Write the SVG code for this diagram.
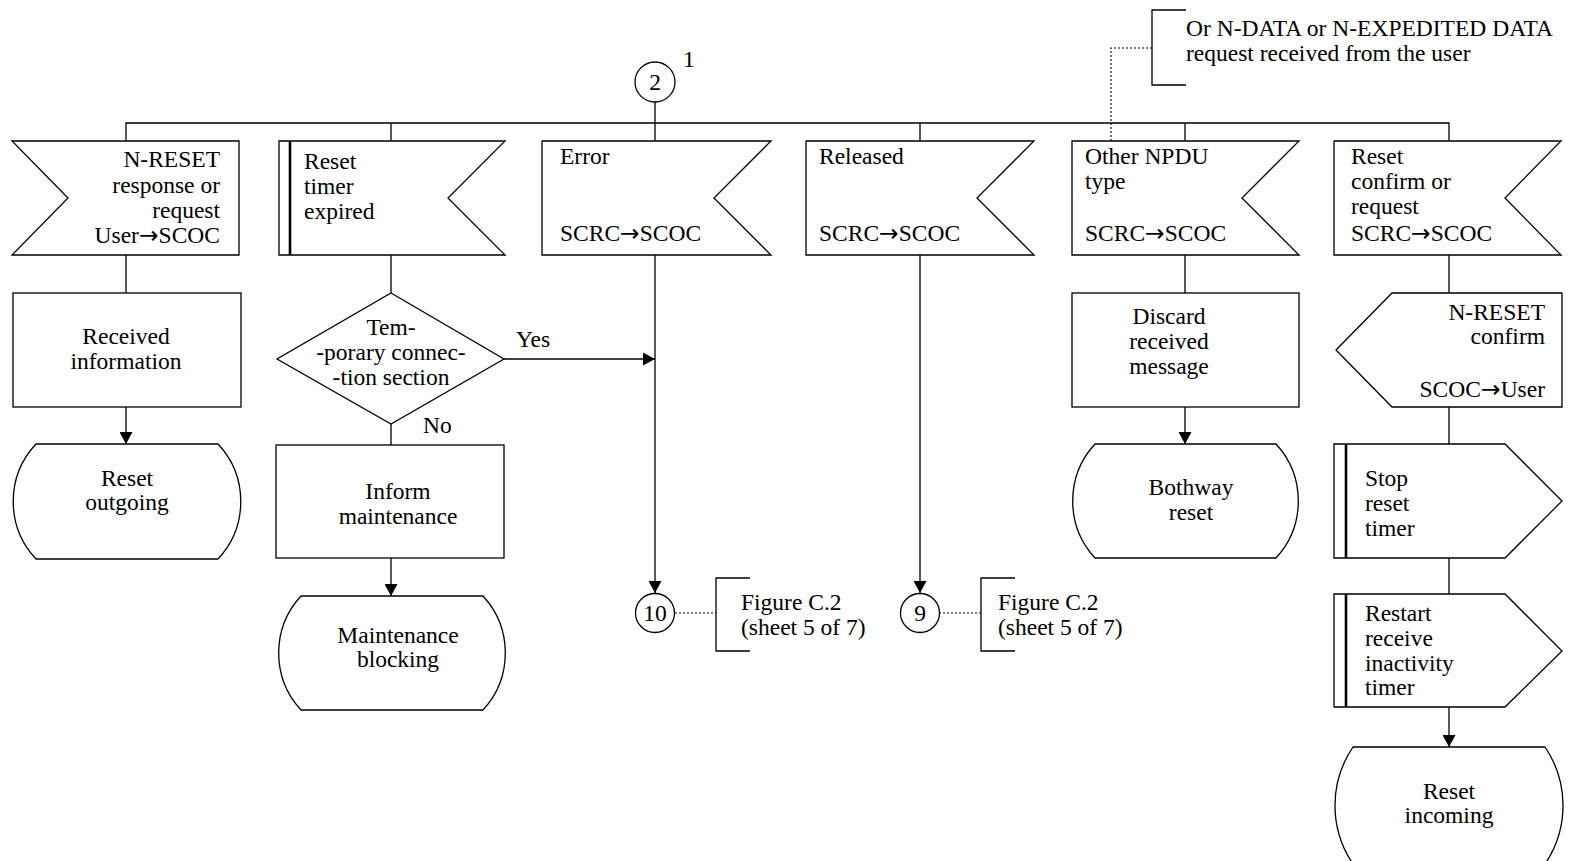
<svg xmlns="http://www.w3.org/2000/svg" width="1576" height="861" viewBox="0 0 1576 861">
<style>
.s{fill:#fff;stroke:#000;stroke-width:1.3}
.bar{stroke:#000;stroke-width:2.6;fill:none}
.ln{stroke:#000;stroke-width:1.3;fill:none}
.dot{stroke:#000;stroke-width:1.1;fill:none;stroke-dasharray:2 2}
text{font-family:"Liberation Serif","Times New Roman",serif;font-size:23.5px;fill:#000}
.c{text-anchor:middle}
.r{text-anchor:end}
.a{font-family:"DejaVu Sans",sans-serif}
</style>
<defs>
<marker id="ar" markerUnits="userSpaceOnUse" markerWidth="13" markerHeight="13" refX="12" refY="6.5" orient="auto">
<path d="M0,0 L12,6.5 L0,13 Z" fill="#000"/>
</marker>
</defs>

<g id="connectors">
<path class="ln" d="M126,141 V123 H1449 V141"/>
<path class="ln" d="M391,123 V141 M655,102 V141 M920,123 V141 M1185,123 V141"/>
<path class="ln" d="M126,255 V293"/>
<path class="ln" d="M126,407 V444" marker-end="url(#ar)"/>
<path class="ln" d="M391,255 V293 M391,424 V445"/>
<path class="ln" d="M391,558 V596" marker-end="url(#ar)"/>
<path class="ln" d="M504,359 H655" marker-end="url(#ar)"/>
<path class="ln" d="M655,255 V593" marker-end="url(#ar)"/>
<path class="ln" d="M920,255 V593" marker-end="url(#ar)"/>
<path class="ln" d="M1185,255 V293"/>
<path class="ln" d="M1185,407 V444" marker-end="url(#ar)"/>
<path class="ln" d="M1449,255 V293 M1449,407 V444 M1449,558 V594"/>
<path class="ln" d="M1449,707 V747" marker-end="url(#ar)"/>
<path class="dot" d="M675,613 H716 M939,613 H981 M1152,48 H1111 V141"/>
<text x="516" y="347">Yes</text>
<text x="423" y="433">No</text>
</g>

<g id="start2">
<circle class="s" cx="655" cy="82" r="20"/>
<text class="c" x="655" y="90">2</text>
<text x="683" y="67">1</text>
</g>

<g id="comment-top">
<path class="ln" d="M1186,10 H1152 V85 H1186"/>
<text x="1186" y="36">Or N-DATA or N-EXPEDITED DATA</text>
<text x="1186" y="61">request received from the user</text>
</g>

<g id="nreset-input">
<polygon class="s" points="12,141 239,141 239,255 12,255 68,198"/>
<text class="r" x="220" y="167">N-RESET</text>
<text class="r" x="220" y="193">response or</text>
<text class="r" x="220" y="218">request</text>
<text class="r" x="220" y="243">User<tspan class="a">→</tspan>SCOC</text>
</g>

<g id="reset-timer-expired">
<polygon class="s" points="279,141 505,141 448,198 505,255 279,255"/>
<line class="bar" x1="290" y1="141" x2="290" y2="255"/>
<text x="304" y="169">Reset</text>
<text x="304" y="194">timer</text>
<text x="304" y="219">expired</text>
</g>

<g id="error-input">
<polygon class="s" points="542,141 771,141 714,198 771,255 542,255"/>
<text x="560" y="164">Error</text>
<text x="560" y="241">SCRC<tspan class="a">→</tspan>SCOC</text>
</g>

<g id="released-input">
<polygon class="s" points="806,141 1034,141 977,198 1034,255 806,255"/>
<text x="819" y="164">Released</text>
<text x="819" y="241">SCRC<tspan class="a">→</tspan>SCOC</text>
</g>

<g id="other-npdu-input">
<polygon class="s" points="1072,141 1299,141 1242,198 1299,255 1072,255"/>
<text x="1085" y="164">Other NPDU</text>
<text x="1085" y="189">type</text>
<text x="1085" y="241">SCRC<tspan class="a">→</tspan>SCOC</text>
</g>

<g id="reset-confirm-input">
<polygon class="s" points="1334,141 1561,141 1505,198 1561,255 1334,255"/>
<text x="1351" y="164">Reset</text>
<text x="1351" y="189">confirm or</text>
<text x="1351" y="214">request</text>
<text x="1351" y="241">SCRC<tspan class="a">→</tspan>SCOC</text>
</g>

<g id="received-information">
<rect class="s" x="13" y="293" width="228" height="114"/>
<text class="c" x="126" y="344">Received</text>
<text class="c" x="126" y="369">information</text>
</g>

<g id="reset-outgoing">
<path class="s" d="M36,444 H218 A84 84 0 0 1 218,559 H36 A84 84 0 0 1 36,444 Z"/>
<text class="c" x="127" y="486">Reset</text>
<text class="c" x="127" y="510">outgoing</text>
</g>

<g id="temporary-decision">
<polygon class="s" points="391,293 504,359 391,424 277,359"/>
<text class="c" x="391" y="335">Tem-</text>
<text class="c" x="391" y="360">-porary connec-</text>
<text class="c" x="391" y="385">-tion section</text>
</g>

<g id="inform-maintenance">
<rect class="s" x="276" y="445" width="228" height="113"/>
<text class="c" x="398" y="499">Inform</text>
<text class="c" x="398" y="524">maintenance</text>
</g>

<g id="maintenance-blocking">
<path class="s" d="M301,596 H483 A84 84 0 0 1 483,710 H301 A84 84 0 0 1 301,596 Z"/>
<text class="c" x="398" y="643">Maintenance</text>
<text class="c" x="398" y="667">blocking</text>
</g>

<g id="connector10">
<circle class="s" cx="655" cy="613" r="19.5"/>
<text class="c" x="655" y="621">10</text>
<path class="ln" d="M750,578 H716 V651 H750"/>
<text x="741" y="610">Figure C.2</text>
<text x="741" y="635">(sheet 5 of 7)</text>
</g>

<g id="connector9">
<circle class="s" cx="920" cy="613" r="19.5"/>
<text class="c" x="920" y="621">9</text>
<path class="ln" d="M1015,578 H981 V651 H1015"/>
<text x="998" y="610">Figure C.2</text>
<text x="998" y="635">(sheet 5 of 7)</text>
</g>

<g id="discard-message">
<rect class="s" x="1072" y="293" width="227" height="114"/>
<text class="c" x="1169" y="324">Discard</text>
<text class="c" x="1169" y="349">received</text>
<text class="c" x="1169" y="374">message</text>
</g>

<g id="bothway-reset">
<path class="s" d="M1095,444 H1276 A84 84 0 0 1 1276,558 H1095 A84 84 0 0 1 1095,444 Z"/>
<text class="c" x="1191" y="495">Bothway</text>
<text class="c" x="1191" y="520">reset</text>
</g>

<g id="nreset-confirm-output">
<polygon class="s" points="1336,350 1392,293 1562,293 1562,407 1392,407"/>
<text class="r" x="1545" y="320">N-RESET</text>
<text class="r" x="1545" y="344">confirm</text>
<text class="r" x="1545" y="397">SCOC<tspan class="a">→</tspan>User</text>
</g>

<g id="stop-reset-timer">
<polygon class="s" points="1334,444 1505,444 1562,501 1505,558 1334,558"/>
<line class="bar" x1="1346" y1="444" x2="1346" y2="558"/>
<text x="1365" y="486">Stop</text>
<text x="1365" y="511">reset</text>
<text x="1365" y="536">timer</text>
</g>

<g id="restart-timer">
<polygon class="s" points="1334,594 1505,594 1562,651 1505,707 1334,707"/>
<line class="bar" x1="1346" y1="594" x2="1346" y2="707"/>
<text x="1365" y="621">Restart</text>
<text x="1365" y="646">receive</text>
<text x="1365" y="671">inactivity</text>
<text x="1365" y="695">timer</text>
</g>

<g id="reset-incoming">
<path class="s" d="M1353,747 H1545 A104 104 0 0 1 1545,864 H1353 A104 104 0 0 1 1353,747 Z"/>
<text class="c" x="1449" y="799">Reset</text>
<text class="c" x="1449" y="823">incoming</text>
</g>
</svg>
